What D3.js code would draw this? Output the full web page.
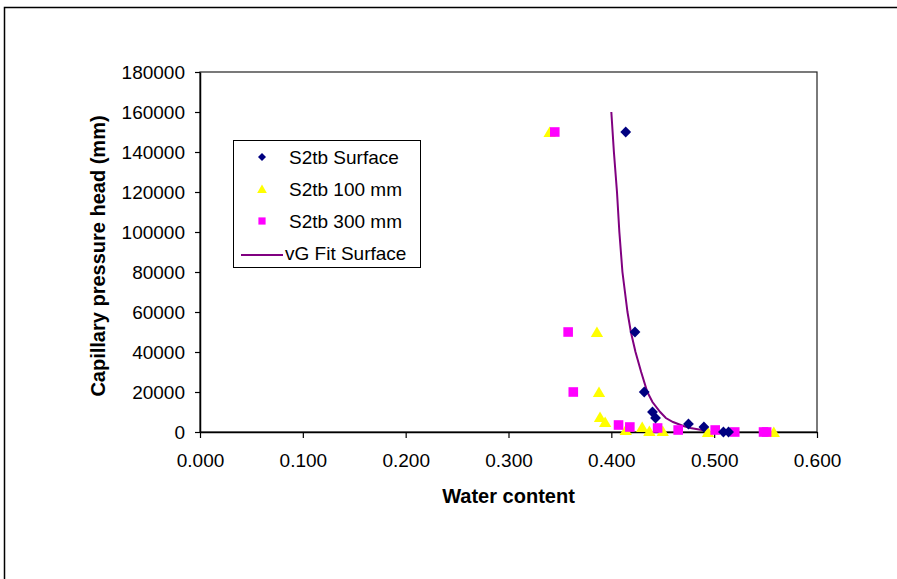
<!DOCTYPE html>
<html>
<head>
<meta charset="utf-8">
<script src="https://cdn.jsdelivr.net/npm/d3@7"></script>
<style>
  html, body { margin: 0; padding: 0; background: #fff; }
  svg { display: block; font-family: "Liberation Sans", Arial, Helvetica, sans-serif; }
</style>
</head>
<body>
<svg id="chart" width="897" height="579"></svg>
<script>
// Water retention measurements for profile S2tb: [water content, capillary pressure head (mm)]
const surfacePoints = [
  [0.414, 150000], [0.423, 50000], [0.432, 20000], [0.440, 10000], [0.443, 7000],
  [0.475, 4000], [0.490, 2500], [0.509, 0], [0.514, 0]
];
const depth100Points = [
  [0.340, 150000], [0.386, 50000], [0.388, 20000], [0.389, 7500], [0.394, 5000],
  [0.414, 1000], [0.430, 2500], [0.437, 500], [0.450, 500], [0.494, 0], [0.558, 0]
];
const depth300Points = [
  [0.345, 150000], [0.358, 50000], [0.363, 20000], [0.407, 3500], [0.418, 2500],
  [0.445, 2000], [0.465, 1000], [0.501, 1000], [0.520, 0], [0.548, 0], [0.551, 0]
];
// van Genuchten fit for the surface samples
const vgFitSurface = [
  [0.4000, 160000], [0.4025, 140000], [0.4055, 120000], [0.4078, 100000], [0.4108, 80000],
  [0.4157, 60000], [0.4190, 50000], [0.4235, 40000], [0.4290, 30000], [0.4350, 20000],
  [0.4400, 15000], [0.4475, 10000], [0.4530, 7000], [0.4600, 5000], [0.4700, 3000],
  [0.4770, 2000], [0.4880, 1000], [0.4950, 500]
];
const xTicks = [0, 0.1, 0.2, 0.3, 0.4, 0.5, 0.6];
const yTicks = [0, 20000, 40000, 60000, 80000, 100000, 120000, 140000, 160000, 180000];
const legendLabels = ["S2tb Surface", "S2tb 100 mm", "S2tb 300 mm", "vG Fit Surface"];

const svg = d3.select("#chart");
const plot = { left: 200, top: 72, right: 817, bottom: 432 };

const x = d3.scaleLinear().domain([0, 0.6]).range([plot.left, plot.right]);
const y = d3.scaleLinear().domain([0, 180000]).range([plot.bottom, plot.top]);

// outer chart frame (runs off the right and bottom edges)
svg.append("rect")
  .attr("x", 4.5).attr("y", 7.5).attr("width", 940).attr("height", 640)
  .attr("fill", "none").attr("stroke", "#000").attr("stroke-width", 1.5);

// plot area border
svg.append("rect")
  .attr("x", plot.left).attr("y", plot.top)
  .attr("width", plot.right - plot.left).attr("height", plot.bottom - plot.top)
  .attr("fill", "#fff").attr("stroke", "#222").attr("stroke-width", 1.2);

// axes
const xAxis = svg.append("g")
  .attr("transform", `translate(0,${plot.bottom})`)
  .call(d3.axisBottom(x).tickValues(xTicks).tickFormat(d3.format(".3f")).tickSize(6).tickSizeOuter(0));
const yAxis = svg.append("g")
  .attr("transform", `translate(${plot.left},0)`)
  .call(d3.axisLeft(y).tickValues(yTicks).tickFormat(d3.format("d")).tickSize(5).tickSizeOuter(0));

[xAxis, yAxis].forEach(g => {
  g.select(".domain").attr("stroke", "#000").attr("stroke-width", 1.5);
  g.selectAll(".tick line").attr("stroke", "#000").attr("stroke-width", 1.2);
  g.selectAll(".tick text")
    .attr("fill", "#000")
    .style("font-family", '"Liberation Sans", Arial, sans-serif')
    .style("font-size", "19px");
});
xAxis.selectAll(".tick text").attr("dy", "0").attr("y", 35);
yAxis.selectAll(".tick text").attr("x", -15).attr("dy", "0.36em");

// axis titles
svg.append("text")
  .attr("x", (plot.left + plot.right) / 2).attr("y", 503)
  .attr("text-anchor", "middle")
  .style("font-size", "20px").style("font-weight", "bold")
  .text("Water content");
svg.append("text")
  .attr("transform", `translate(105,${(plot.top + plot.bottom) / 2 + 4}) rotate(-90)`)
  .attr("text-anchor", "middle")
  .style("font-size", "20px").style("font-weight", "bold")
  .text("Capillary pressure head (mm)");

// marker shapes
const diamond = s => `M0,${-s}L${s},0L0,${s}L${-s},0Z`;
const triangle = s => `M0,${-s}L${s * 1.1},${s * 0.9}L${-s * 1.1},${s * 0.9}Z`;
const square = s => `M${-s},${-s}H${s}V${s}H${-s}Z`;

const series = [
  { data: depth100Points, path: triangle(5.6), color: "#FFFF00" },
  { data: depth300Points, path: square(4.8), color: "#FF00FF" },
  { data: surfacePoints, path: diamond(5.4), color: "#000080" }
];

// fitted curve
svg.append("path")
  .datum(vgFitSurface)
  .attr("fill", "none")
  .attr("stroke", "#800080")
  .attr("stroke-width", 2)
  .attr("d", d3.line().x(d => x(d[0])).y(d => y(d[1])));

series.forEach(s => {
  svg.append("g").selectAll("path")
    .data(s.data)
    .join("path")
    .attr("transform", d => `translate(${x(d[0])},${y(d[1])})`)
    .attr("d", s.path)
    .attr("fill", s.color);
});

// legend
const legend = svg.append("g");
legend.append("rect")
  .attr("x", 233.5).attr("y", 140.5).attr("width", 187).attr("height", 127)
  .attr("fill", "#fff").attr("stroke", "#000").attr("stroke-width", 1);

const legendY = [157, 189, 221, 253];
const legendMarks = [
  { path: diamond(4), color: "#000080" },
  { path: triangle(4.4), color: "#FFFF00" },
  { path: square(3.6), color: "#FF00FF" }
];
legendMarks.forEach((m, i) => {
  legend.append("path")
    .attr("transform", `translate(262,${legendY[i]})`)
    .attr("d", m.path).attr("fill", m.color);
});
legend.append("line")
  .attr("x1", 241).attr("x2", 283)
  .attr("y1", legendY[3] + 2).attr("y2", legendY[3] + 2)
  .attr("stroke", "#800080").attr("stroke-width", 2);

legendLabels.forEach((t, i) => {
  legend.append("text")
    .attr("x", i === 3 ? 285 : 289).attr("y", legendY[i] + 7)
    .style("font-size", "19px")
    .text(t);
});
</script>
</body>
</html>
